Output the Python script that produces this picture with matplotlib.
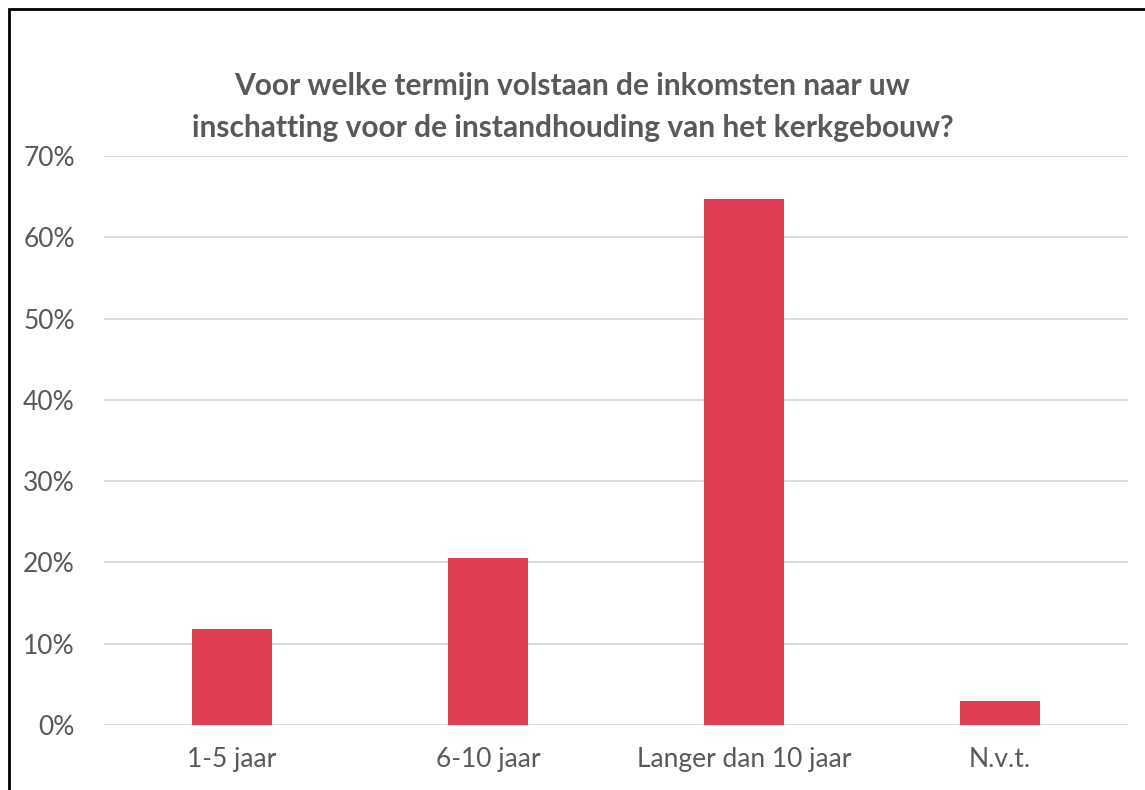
import matplotlib
matplotlib.use("Agg")
from matplotlib import pyplot as plt
from matplotlib.patches import Rectangle
from matplotlib.ticker import PercentFormatter

categories = ["1-5 jaar", "6-10 jaar", "Langer dan 10 jaar", "N.v.t."]
shares = [11.76, 20.59, 64.71, 2.94]
yticks = [0, 10, 20, 30, 40, 50, 60, 70]
title = ("Voor welke termijn volstaan de inkomsten naar uw\n"
         "inschatting voor de instandhouding van het kerkgebouw?")

BAR = "#E03E52"
TEXT = "#595959"
GRID = "#D9D9D9"

plt.rcParams["font.family"] = ["Lato", "DejaVu Sans"]

fig = plt.figure(figsize=(11.45, 7.9), dpi=100)
ax = fig.add_axes([104 / 1145, 1 - 725 / 790, 1024 / 1145, 569 / 790])

x = range(len(categories))
ax.bar(x, shares, width=0.31, color=BAR, zorder=3)

ax.set_xlim(-0.5, len(categories) - 0.5)
ax.set_ylim(0, 70)
ax.set_yticks(yticks)
ax.yaxis.set_major_formatter(PercentFormatter(decimals=0))
ax.set_xticks(list(x))
ax.set_xticklabels(categories)
ax.tick_params(length=0, labelsize=19, colors=TEXT)
ax.tick_params(axis="y", pad=21)
ax.tick_params(axis="x", pad=16)
ax.grid(axis="y", color=GRID, linewidth=1.3, zorder=0)
for s in ax.spines.values():
    s.set_visible(False)

fig.text(0.5, 1 - 107 / 790, title, ha="center", va="center",
         fontsize=21.5, fontweight="bold", color=TEXT, linespacing=1.6)

# outer chart border (cut off at the right and bottom edge)
fig.patches.append(Rectangle((9 / 1145, -0.1), 1.2, 1 - 9 / 790 + 0.1,
                             transform=fig.transFigure, fill=False,
                             edgecolor="black", linewidth=2))

fig.savefig("out.png", dpi=100)
